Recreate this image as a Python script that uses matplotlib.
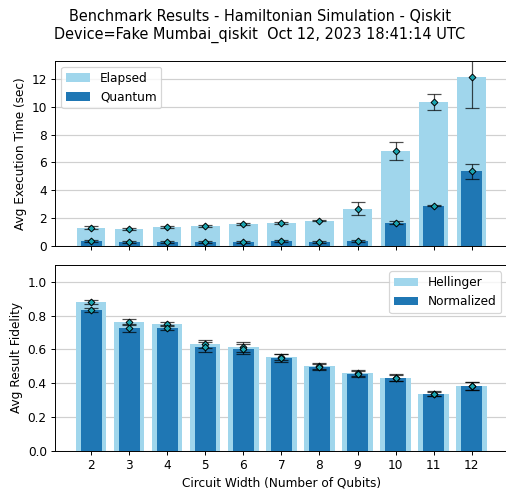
import numpy as np
import matplotlib
matplotlib.use("Agg")
import matplotlib.pyplot as plt

# circuit widths
num_qubits = [2, 3, 4, 5, 6, 7, 8, 9, 10, 11, 12]

# execution times (sec)
elapsed_avg = [1.32, 1.23, 1.37, 1.45, 1.59, 1.66, 1.81, 2.67, 6.80, 10.34, 12.14]
elapsed_err = [0.10, 0.07, 0.07, 0.07, 0.07, 0.07, 0.05, 0.46, 0.65, 0.55, 2.26]
quantum_avg = [0.36, 0.29, 0.29, 0.29, 0.29, 0.36, 0.29, 0.36, 1.66, 2.89, 5.35]
quantum_err = [0.05, 0.05, 0.05, 0.05, 0.05, 0.05, 0.05, 0.05, 0.10, 0.05, 0.55]

# fidelities
hellinger_avg = [0.883, 0.764, 0.752, 0.634, 0.616, 0.556, 0.503, 0.461, 0.432, 0.337, 0.384]
hellinger_err = [0.010, 0.018, 0.012, 0.023, 0.029, 0.018, 0.018, 0.018, 0.019, 0.011, 0.024]
normalized_avg = [0.836, 0.729, 0.729, 0.616, 0.604, 0.550, 0.497, 0.455, 0.432, 0.337, 0.384]
normalized_err = [0.012, 0.024, 0.016, 0.030, 0.030, 0.022, 0.018, 0.017, 0.020, 0.014, 0.025]

title = ("Benchmark Results - Hamiltonian Simulation - Qiskit\n"
         "Device=Fake Mumbai_qiskit  Oct 12, 2023 18:41:14 UTC")

light = "#a0d6ec"
dark = "#1f77b4"
mark = "#1aa5b0"

W, H = 506, 489
DPI = 87
fig = plt.figure(figsize=(W / DPI, H / DPI), dpi=DPI)
fig.suptitle(title, x=260 / W, y=1 - 9 / H, va="top", fontsize=12)

ax1 = fig.add_axes([55.3 / W, 1 - 246 / H, 452.2 / W, 185.3 / H])
ax2 = fig.add_axes([55.3 / W, 1 - 450.5 / H, 452.2 / W, 185.2 / H])


def draw_errs(ax, x, y, err):
    # error bar lines are a bit see-through, the markers are not
    ax.errorbar(x, y, yerr=err, fmt="none", ecolor=(0, 0, 0, 0.7),
                elinewidth=1, capsize=5.5, zorder=4)
    ax.plot(x, y, "D", markersize=4, markerfacecolor=mark,
            markeredgecolor="black", markeredgewidth=0.8, zorder=5)


x = np.array(num_qubits)

ax1.bar(x, elapsed_avg, width=0.75, color=light, label="Elapsed", zorder=2)
ax1.bar(x, quantum_avg, width=0.55, color=dark, label="Quantum", zorder=3)
draw_errs(ax1, x, elapsed_avg, elapsed_err)
draw_errs(ax1, x, quantum_avg, quantum_err)
ax1.set_ylim(0, 13.3)
ax1.set_ylabel("Avg Execution Time (sec)")
ax1.set_xticks(num_qubits)
ax1.set_xticklabels([])
ax1.grid(axis="y", color="#d0d0d0", linewidth=1)
ax1.set_axisbelow(True)
ax1.legend(loc="upper left")

ax2.bar(x, hellinger_avg, width=0.8, color=light, label="Hellinger", zorder=2)
ax2.bar(x, normalized_avg, width=0.55, color=dark, label="Normalized", zorder=3)
draw_errs(ax2, x, hellinger_avg, hellinger_err)
draw_errs(ax2, x, normalized_avg, normalized_err)
ax2.set_ylim(0, 1.1)
ax2.set_yticks([0.0, 0.2, 0.4, 0.6, 0.8, 1.0])
ax2.set_ylabel("Avg Result Fidelity")
ax2.set_xlabel("Circuit Width (Number of Qubits)")
ax2.set_xticks(num_qubits)
ax2.grid(axis="y", color="#d0d0d0", linewidth=1)
ax2.set_axisbelow(True)
ax2.legend(loc="upper right")

for ax in (ax1, ax2):
    ax.set_xlim(1.06, 12.94)

fig.savefig("out.png", dpi=DPI)
